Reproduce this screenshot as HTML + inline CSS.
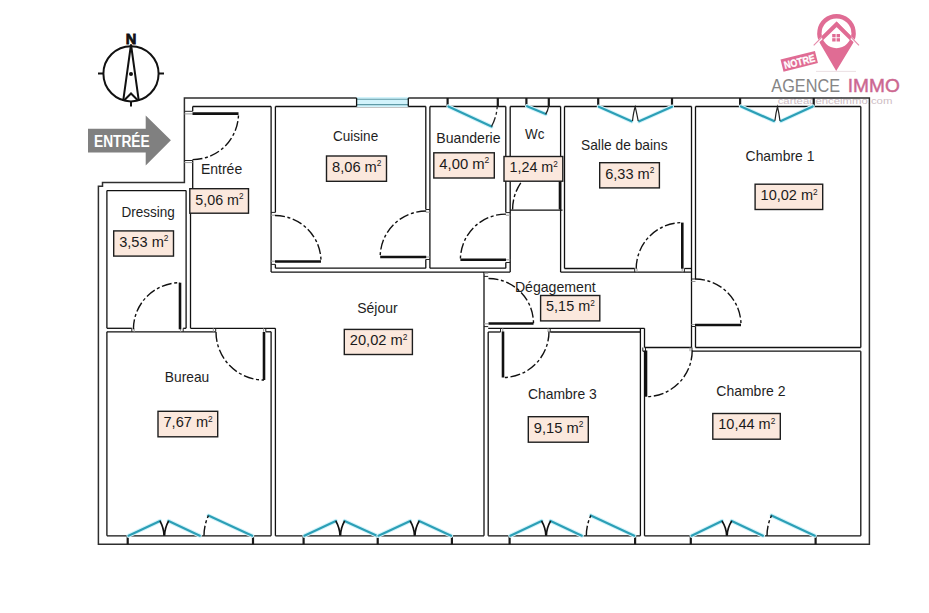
<!DOCTYPE html>
<html><head><meta charset="utf-8"><title>Plan</title>
<style>html,body{margin:0;padding:0;background:#fff;}body{width:929px;height:613px;overflow:hidden;font-family:"Liberation Sans",sans-serif;}svg{display:block;}</style>
</head><body>
<svg width="929" height="613" viewBox="0 0 929 613">
<rect width="929" height="613" fill="#fff"/>
<defs><clipPath id="inner"><circle cx="836.5" cy="33.3" r="15.2"/></clipPath></defs>
<path d="M819.95,43.2 A19.3,19.3 0 1 1 853.05,43.2 L836.2,71 Z" fill="#e06c94"/>
<circle cx="836.5" cy="33.3" r="14.9" fill="#fff"/>
<path d="M810.5,48.6 L836.6,24.6 L862.5,48.6" fill="none" stroke="#fff" stroke-width="2.6"/>
<path d="M813.7,45.3 L836.6,22.3 L859,45.3" fill="none" stroke="#e06c94" stroke-width="1.1" opacity="0.8"/>
<path d="M818,42.5 L836.6,24.4 L855,42.5" fill="none" stroke="#e06c94" stroke-width="4" clip-path="url(#inner)"/>
<g fill="#e06c94"><rect x="832.2" y="34" width="3.4" height="3.3"/><rect x="836.6" y="34" width="3.4" height="3.3"/><rect x="832.2" y="38.2" width="3.4" height="3.3"/><rect x="836.6" y="38.2" width="3.4" height="3.3"/></g>
<line x1="816" y1="71.4" x2="856" y2="71.4" stroke="#e6d8dc" stroke-width="0.8"/>
<g transform="translate(0,-3.6) rotate(-14 799 65)"><rect x="781.5" y="58.8" width="35.5" height="12.4" fill="#e06c94"/><text x="783.6" y="69" font-family="Liberation Sans, sans-serif" font-weight="bold" font-size="10.4" fill="#fff" stroke="#fff" stroke-width="0.3" textLength="31.5" lengthAdjust="spacingAndGlyphs">NOTRE</text></g>
<text x="771.3" y="91.8" font-family="Liberation Sans, sans-serif" font-size="18.9" fill="#858585" textLength="68.7" lengthAdjust="spacingAndGlyphs">AGENCE</text>
<text x="847.8" y="91.8" font-family="Liberation Sans, sans-serif" font-size="18.9" fill="#cc6790" stroke="#cc6790" stroke-width="0.45" textLength="52" lengthAdjust="spacingAndGlyphs">IMMO</text>
<text x="777.7" y="104.3" font-family="Liberation Sans, sans-serif" font-size="9.5" fill="#cdbcc3" textLength="114.7" lengthAdjust="spacingAndGlyphs">carteagenceimmo.com</text>
<path d="M184.4,98 L869.4,98 L869.4,544.2 L98.4,544.2 L98.4,186.3 L102.5,186.3 L102.5,182.4 L184.4,182.4 Z" fill="none" stroke="#2e2e2e" stroke-width="1.5" stroke-linejoin="miter"/>
<line x1="192.7" y1="106.5" x2="271.1" y2="106.5" stroke="#111" stroke-width="1.3" />
<line x1="275.4" y1="106.5" x2="425.8" y2="106.5" stroke="#111" stroke-width="1.3" />
<line x1="429.9" y1="106.5" x2="505.8" y2="106.5" stroke="#111" stroke-width="1.3" />
<line x1="510.2" y1="106.5" x2="560.6" y2="106.5" stroke="#111" stroke-width="1.3" />
<line x1="564.5" y1="106.5" x2="691.5" y2="106.5" stroke="#111" stroke-width="1.3" />
<line x1="695.5" y1="106.5" x2="860.8" y2="106.5" stroke="#111" stroke-width="1.3" />
<line x1="192.7" y1="106.5" x2="192.7" y2="111.3" stroke="#111" stroke-width="1.3" />
<line x1="192.7" y1="160.5" x2="192.7" y2="189" stroke="#111" stroke-width="1.3" />
<line x1="190.5" y1="213" x2="190.5" y2="328.3" stroke="#111" stroke-width="1.3" />
<line x1="271.1" y1="106.5" x2="271.1" y2="272.1" stroke="#111" stroke-width="1.3" />
<line x1="275.4" y1="106.5" x2="275.4" y2="212.4" stroke="#111" stroke-width="1.3" />
<line x1="275.4" y1="264.4" x2="275.4" y2="268.2" stroke="#111" stroke-width="1.3" />
<line x1="275.4" y1="268.2" x2="425.8" y2="268.2" stroke="#111" stroke-width="1.3" />
<line x1="425.8" y1="106.5" x2="425.8" y2="209.5" stroke="#111" stroke-width="1.3" />
<line x1="425.8" y1="259.5" x2="425.8" y2="268.2" stroke="#111" stroke-width="1.3" />
<line x1="271.1" y1="272.1" x2="510.2" y2="272.1" stroke="#111" stroke-width="1.3" />
<line x1="429.9" y1="106.5" x2="429.9" y2="268.2" stroke="#111" stroke-width="1.3" />
<line x1="429.9" y1="268.2" x2="505.8" y2="268.2" stroke="#111" stroke-width="1.3" />
<line x1="505.8" y1="106.5" x2="505.8" y2="212.6" stroke="#111" stroke-width="1.3" />
<line x1="505.8" y1="262.5" x2="505.8" y2="268.2" stroke="#111" stroke-width="1.3" />
<line x1="510.2" y1="106.5" x2="510.2" y2="272.1" stroke="#111" stroke-width="1.3" />
<line x1="560.6" y1="106.5" x2="560.6" y2="272.1" stroke="#111" stroke-width="1.3" />
<line x1="510.2" y1="210.1" x2="562.5" y2="210.1" stroke="#111" stroke-width="1.3" />
<line x1="564.5" y1="106.5" x2="564.5" y2="268.5" stroke="#111" stroke-width="1.3" />
<line x1="564.5" y1="268.5" x2="634.7" y2="268.5" stroke="#111" stroke-width="1.3" />
<line x1="684.4" y1="268.5" x2="691.5" y2="268.5" stroke="#111" stroke-width="1.3" />
<line x1="691.5" y1="106.5" x2="691.5" y2="347.5" stroke="#111" stroke-width="1.3" />
<line x1="560.6" y1="272.2" x2="691.5" y2="272.2" stroke="#111" stroke-width="1.3" />
<line x1="695.5" y1="106.5" x2="695.5" y2="279" stroke="#111" stroke-width="1.3" />
<line x1="695.5" y1="326.5" x2="695.5" y2="347.5" stroke="#111" stroke-width="1.3" />
<line x1="695.5" y1="347.5" x2="860.8" y2="347.5" stroke="#111" stroke-width="1.3" />
<line x1="860.8" y1="106.5" x2="860.8" y2="347.5" stroke="#111" stroke-width="1.3" />
<line x1="488.2" y1="328.3" x2="644.5" y2="328.3" stroke="#111" stroke-width="1.3" />
<line x1="644.5" y1="328.3" x2="644.5" y2="347.5" stroke="#111" stroke-width="1.3" />
<line x1="644.5" y1="347.5" x2="691.5" y2="347.5" stroke="#111" stroke-width="1.3" />
<line x1="642.8" y1="351.2" x2="645.5" y2="351.2" stroke="#111" stroke-width="1.3" />
<line x1="692" y1="351.2" x2="860.8" y2="351.2" stroke="#111" stroke-width="1.3" />
<line x1="644.5" y1="351.2" x2="644.5" y2="535.8" stroke="#111" stroke-width="1.3" />
<line x1="860.8" y1="351.2" x2="860.8" y2="535.8" stroke="#111" stroke-width="1.3" />
<line x1="644.5" y1="535.8" x2="860.8" y2="535.8" stroke="#111" stroke-width="1.3" />
<line x1="488.2" y1="332" x2="500.5" y2="332" stroke="#111" stroke-width="1.3" />
<line x1="550.2" y1="332" x2="640.4" y2="332" stroke="#111" stroke-width="1.3" />
<line x1="488.2" y1="332" x2="488.2" y2="535.8" stroke="#111" stroke-width="1.3" />
<line x1="640.4" y1="328.3" x2="640.4" y2="535.8" stroke="#111" stroke-width="1.3" />
<line x1="488.2" y1="535.8" x2="640.4" y2="535.8" stroke="#111" stroke-width="1.3" />
<line x1="484" y1="272.1" x2="484" y2="535.8" stroke="#111" stroke-width="1.3" />
<line x1="190.5" y1="328.3" x2="275.4" y2="328.3" stroke="#111" stroke-width="1.3" />
<line x1="275.4" y1="328.3" x2="275.4" y2="535.8" stroke="#111" stroke-width="1.3" />
<line x1="275.4" y1="535.8" x2="484" y2="535.8" stroke="#111" stroke-width="1.3" />
<line x1="106.9" y1="331.8" x2="106.9" y2="535.8" stroke="#111" stroke-width="1.3" />
<line x1="106.9" y1="331.8" x2="215.7" y2="331.8" stroke="#111" stroke-width="1.3" />
<line x1="265.8" y1="331.8" x2="271.1" y2="331.8" stroke="#111" stroke-width="1.3" />
<line x1="271.1" y1="331.8" x2="271.1" y2="535.8" stroke="#111" stroke-width="1.3" />
<line x1="106.9" y1="535.8" x2="271.1" y2="535.8" stroke="#111" stroke-width="1.3" />
<line x1="106.9" y1="190.6" x2="106.9" y2="328.3" stroke="#111" stroke-width="1.3" />
<line x1="106.9" y1="190.6" x2="186.1" y2="190.6" stroke="#111" stroke-width="1.3" />
<line x1="186.1" y1="190.6" x2="186.1" y2="328.3" stroke="#111" stroke-width="1.3" />
<line x1="106.9" y1="328.3" x2="131.8" y2="328.3" stroke="#111" stroke-width="1.3" />
<line x1="183.2" y1="328.3" x2="186.1" y2="328.3" stroke="#111" stroke-width="1.3" />
<line x1="184.4" y1="111.3" x2="192.7" y2="111.3" stroke="#222" stroke-width="1.0" />
<line x1="184.4" y1="113.9" x2="192.7" y2="113.9" stroke="#9a9a9a" stroke-width="1.0" />
<line x1="184.4" y1="160.5" x2="192.7" y2="160.5" stroke="#222" stroke-width="1.0" />
<line x1="184.4" y1="162.6" x2="192.7" y2="162.6" stroke="#9a9a9a" stroke-width="1.0" />
<line x1="271.1" y1="212.4" x2="275.4" y2="212.4" stroke="#222" stroke-width="1.0" />
<line x1="271.1" y1="215.2" x2="275.4" y2="215.2" stroke="#9a9a9a" stroke-width="1.0" />
<line x1="271.1" y1="261.2" x2="275.4" y2="261.2" stroke="#9a9a9a" stroke-width="1.0" />
<line x1="271.1" y1="264.4" x2="275.4" y2="264.4" stroke="#222" stroke-width="1.0" />
<line x1="425.8" y1="209.5" x2="429.9" y2="209.5" stroke="#222" stroke-width="1.0" />
<line x1="425.8" y1="212.2" x2="429.9" y2="212.2" stroke="#9a9a9a" stroke-width="1.0" />
<line x1="425.8" y1="257" x2="429.9" y2="257" stroke="#9a9a9a" stroke-width="1.0" />
<line x1="425.8" y1="259.5" x2="429.9" y2="259.5" stroke="#222" stroke-width="1.0" />
<line x1="505.8" y1="212.6" x2="510.2" y2="212.6" stroke="#222" stroke-width="1.0" />
<line x1="505.8" y1="215.2" x2="510.2" y2="215.2" stroke="#9a9a9a" stroke-width="1.0" />
<line x1="505.8" y1="259.8" x2="510.2" y2="259.8" stroke="#9a9a9a" stroke-width="1.0" />
<line x1="505.8" y1="262.5" x2="510.2" y2="262.5" stroke="#222" stroke-width="1.0" />
<line x1="634.7" y1="268.5" x2="634.7" y2="272.2" stroke="#222" stroke-width="1.0" />
<line x1="637" y1="268.5" x2="637" y2="272.2" stroke="#9a9a9a" stroke-width="1.0" />
<line x1="682.2" y1="268.5" x2="682.2" y2="272.2" stroke="#9a9a9a" stroke-width="1.0" />
<line x1="684.4" y1="268.5" x2="684.4" y2="272.2" stroke="#222" stroke-width="1.0" />
<line x1="691.5" y1="279" x2="695.5" y2="279" stroke="#222" stroke-width="1.0" />
<line x1="691.5" y1="281.5" x2="695.5" y2="281.5" stroke="#9a9a9a" stroke-width="1.0" />
<line x1="691.5" y1="324.5" x2="695.5" y2="324.5" stroke="#9a9a9a" stroke-width="1.0" />
<line x1="691.5" y1="326.5" x2="695.5" y2="326.5" stroke="#222" stroke-width="1.0" />
<line x1="484" y1="273.2" x2="488.2" y2="273.2" stroke="#9a9a9a" stroke-width="1.0" />
<line x1="484" y1="276.4" x2="488.2" y2="276.4" stroke="#222" stroke-width="1.0" />
<line x1="484" y1="323.8" x2="488.2" y2="323.8" stroke="#9a9a9a" stroke-width="1.0" />
<line x1="484" y1="326.6" x2="488.2" y2="326.6" stroke="#222" stroke-width="1.0" />
<line x1="500.5" y1="328.3" x2="500.5" y2="332" stroke="#222" stroke-width="1.0" />
<line x1="502.8" y1="328.3" x2="502.8" y2="332" stroke="#9a9a9a" stroke-width="1.0" />
<line x1="550.2" y1="328.3" x2="550.2" y2="332" stroke="#222" stroke-width="1.0" />
<line x1="548" y1="328.3" x2="548" y2="332" stroke="#9a9a9a" stroke-width="1.0" />
<line x1="642.8" y1="347.5" x2="642.8" y2="351.2" stroke="#222" stroke-width="1.0" />
<line x1="645.5" y1="347.5" x2="645.5" y2="351.2" stroke="#222" stroke-width="1.0" />
<line x1="692" y1="347.5" x2="692" y2="351.2" stroke="#222" stroke-width="1.0" />
<line x1="690" y1="347.5" x2="690" y2="351.2" stroke="#9a9a9a" stroke-width="1.0" />
<line x1="131.8" y1="328.3" x2="131.8" y2="331.8" stroke="#222" stroke-width="1.0" />
<line x1="134.2" y1="328.3" x2="134.2" y2="331.8" stroke="#9a9a9a" stroke-width="1.0" />
<line x1="183.2" y1="328.3" x2="183.2" y2="331.8" stroke="#222" stroke-width="1.0" />
<line x1="180.6" y1="328.3" x2="180.6" y2="331.8" stroke="#9a9a9a" stroke-width="1.0" />
<line x1="215.7" y1="328.3" x2="215.7" y2="331.8" stroke="#222" stroke-width="1.0" />
<line x1="213.3" y1="328.3" x2="213.3" y2="331.8" stroke="#9a9a9a" stroke-width="1.0" />
<line x1="265.8" y1="328.3" x2="265.8" y2="331.8" stroke="#222" stroke-width="1.0" />
<line x1="263.6" y1="328.3" x2="263.6" y2="331.8" stroke="#9a9a9a" stroke-width="1.0" />
<line x1="192.5" y1="113.6" x2="238.5" y2="113.6" stroke="#111" stroke-width="2.6" />
<path d="M192.5,159.6 A46.0,46.0 0 0 0 238.5,113.6" fill="none" stroke="#111" stroke-width="1.4" stroke-dasharray="10 2.6 3 2.6"/>
<line x1="275" y1="261.5" x2="321" y2="261.5" stroke="#111" stroke-width="2.6" />
<path d="M275,215.5 A46.0,46.0 0 0 1 321,261.5" fill="none" stroke="#111" stroke-width="1.4" stroke-dasharray="10 2.6 3 2.6"/>
<line x1="426.2" y1="257" x2="380.2" y2="257" stroke="#111" stroke-width="2.6" />
<path d="M426.2,211 A46.0,46.0 0 0 0 380.2,257" fill="none" stroke="#111" stroke-width="1.4" stroke-dasharray="10 2.6 3 2.6"/>
<line x1="506" y1="259.7" x2="460.4" y2="259.7" stroke="#111" stroke-width="2.6" />
<path d="M506,214.1 A45.6,45.6 0 0 0 460.4,259.7" fill="none" stroke="#111" stroke-width="1.4" stroke-dasharray="10 2.6 3 2.6"/>
<line x1="560" y1="209.4" x2="560" y2="162" stroke="#111" stroke-width="2.6" />
<path d="M512.6,209.4 A47.4,47.4 0 0 1 560,162" fill="none" stroke="#111" stroke-width="1.4" stroke-dasharray="10 2.6 3 2.6"/>
<line x1="682.3" y1="268.7" x2="682.3" y2="222.6" stroke="#111" stroke-width="2.6" />
<path d="M636.2,268.7 A46.1,46.1 0 0 1 682.3,222.6" fill="none" stroke="#111" stroke-width="1.4" stroke-dasharray="10 2.6 3 2.6"/>
<line x1="695" y1="325" x2="741" y2="325" stroke="#111" stroke-width="2.6" />
<path d="M695,279 A46.0,46.0 0 0 1 741,325" fill="none" stroke="#111" stroke-width="1.4" stroke-dasharray="10 2.6 3 2.6"/>
<line x1="488.5" y1="323.5" x2="533.5" y2="323.5" stroke="#111" stroke-width="2.6" />
<path d="M488.5,278.5 A45.0,45.0 0 0 1 533.5,323.5" fill="none" stroke="#111" stroke-width="1.4" stroke-dasharray="10 2.6 3 2.6"/>
<line x1="503" y1="331.5" x2="503" y2="377.5" stroke="#111" stroke-width="2.6" />
<path d="M549,331.5 A46.0,46.0 0 0 1 503,377.5" fill="none" stroke="#111" stroke-width="1.4" stroke-dasharray="10 2.6 3 2.6"/>
<line x1="646" y1="350.5" x2="646" y2="396.7" stroke="#111" stroke-width="2.6" />
<path d="M692.2,350.5 A46.2,46.2 0 0 1 646,396.7" fill="none" stroke="#111" stroke-width="1.4" stroke-dasharray="10 2.6 3 2.6"/>
<line x1="180" y1="329.3" x2="180" y2="282.7" stroke="#111" stroke-width="2.6" />
<path d="M133.4,329.3 A46.6,46.6 0 0 1 180,282.7" fill="none" stroke="#111" stroke-width="1.4" stroke-dasharray="10 2.6 3 2.6"/>
<line x1="264" y1="332" x2="264" y2="380" stroke="#111" stroke-width="2.6" />
<path d="M216,332 A48.0,48.0 0 0 0 264,380" fill="none" stroke="#111" stroke-width="1.4" stroke-dasharray="10 2.6 3 2.6"/>
<rect x="356.6" y="97" width="51.7" height="10" fill="#d2f3fb"/>
<line x1="356.6" y1="99.3" x2="408.3" y2="99.3" stroke="#5f9aa6" stroke-width="1.1" />
<line x1="356.6" y1="104.6" x2="408.3" y2="104.6" stroke="#5f9aa6" stroke-width="1.1" />
<line x1="356.6" y1="98" x2="356.6" y2="106.5" stroke="#111" stroke-width="1.3" />
<line x1="408.3" y1="98" x2="408.3" y2="106.5" stroke="#111" stroke-width="1.3" />
<line x1="447.6" y1="98" x2="447.6" y2="106.5" stroke="#1a1a1a" stroke-width="2.2" />
<line x1="497.8" y1="98" x2="497.8" y2="106.5" stroke="#1a1a1a" stroke-width="2.2" />
<line x1="448.4" y1="106.5" x2="491.5" y2="126.5" stroke="#d4f4fb" stroke-width="4.2" stroke-linecap="round"/>
<line x1="448.4" y1="106.5" x2="491.5" y2="126.5" stroke="#2c9fb6" stroke-width="2.2" stroke-linecap="round"/>
<path d="M491.5,126.5 A47.5,47.5 0 0 0 497.2,106.5" fill="none" stroke="#222" stroke-width="1.3" stroke-dasharray="10 2.6 3 2.6"/>
<line x1="526.4" y1="98" x2="526.4" y2="106.5" stroke="#1a1a1a" stroke-width="2.2" />
<line x1="548.8" y1="98" x2="548.8" y2="106.5" stroke="#1a1a1a" stroke-width="2.2" />
<line x1="527.1" y1="106.2" x2="545.7" y2="114.1" stroke="#d4f4fb" stroke-width="4.2" stroke-linecap="round"/>
<line x1="527.1" y1="106.2" x2="545.7" y2="114.1" stroke="#2c9fb6" stroke-width="2.2" stroke-linecap="round"/>
<path d="M545.7,114.1 A21,21 0 0 0 548.6,106.5" fill="none" stroke="#222" stroke-width="1.3"/>
<line x1="598.2" y1="98" x2="598.2" y2="106.5" stroke="#1a1a1a" stroke-width="2.2" />
<line x1="672" y1="98" x2="672" y2="106.5" stroke="#1a1a1a" stroke-width="2.2" />
<line x1="598.8" y1="106.7" x2="631.5" y2="121.3" stroke="#d4f4fb" stroke-width="4.2" stroke-linecap="round"/>
<line x1="598.8" y1="106.7" x2="631.5" y2="121.3" stroke="#2c9fb6" stroke-width="2.2" stroke-linecap="round"/>
<line x1="672" y1="106.7" x2="639.2" y2="121.3" stroke="#d4f4fb" stroke-width="4.2" stroke-linecap="round"/>
<line x1="672" y1="106.7" x2="639.2" y2="121.3" stroke="#2c9fb6" stroke-width="2.2" stroke-linecap="round"/>
<path d="M632.5,121 Q633.5,112 635.2,106.8 Q636.5,112 638.2,121" fill="none" stroke="#222" stroke-width="1.2"/>
<line x1="740.1" y1="98" x2="740.1" y2="106.5" stroke="#1a1a1a" stroke-width="2.2" />
<line x1="813.7" y1="98" x2="813.7" y2="106.5" stroke="#1a1a1a" stroke-width="2.2" />
<line x1="741" y1="106.4" x2="773.9" y2="121.1" stroke="#d4f4fb" stroke-width="4.2" stroke-linecap="round"/>
<line x1="741" y1="106.4" x2="773.9" y2="121.1" stroke="#2c9fb6" stroke-width="2.2" stroke-linecap="round"/>
<line x1="812.7" y1="106.4" x2="781" y2="121.1" stroke="#d4f4fb" stroke-width="4.2" stroke-linecap="round"/>
<line x1="812.7" y1="106.4" x2="781" y2="121.1" stroke="#2c9fb6" stroke-width="2.2" stroke-linecap="round"/>
<path d="M774.9,120.8 Q776,112 777.5,106.6 Q778.8,112 780,120.8" fill="none" stroke="#222" stroke-width="1.2"/>
<line x1="127.7" y1="535.7" x2="127.7" y2="544.2" stroke="#1a1a1a" stroke-width="2.2" />
<line x1="253" y1="535.7" x2="253" y2="544.2" stroke="#1a1a1a" stroke-width="2.2" />
<line x1="128.5" y1="535.7" x2="160" y2="521" stroke="#d4f4fb" stroke-width="4.2" stroke-linecap="round"/>
<line x1="128.5" y1="535.7" x2="160" y2="521" stroke="#2c9fb6" stroke-width="2.2" stroke-linecap="round"/>
<line x1="168.6" y1="521" x2="199.79999999999998" y2="535.7" stroke="#d4f4fb" stroke-width="4.2" stroke-linecap="round"/>
<line x1="168.6" y1="521" x2="199.79999999999998" y2="535.7" stroke="#2c9fb6" stroke-width="2.2" stroke-linecap="round"/>
<path d="M160,521 Q163.89,528 163.99,535.7 M168.6,521 Q164.69,528 164.59,535.7" fill="none" stroke="#111" stroke-width="1.6"/>
<line x1="208.4" y1="515.6" x2="252.2" y2="535.7" stroke="#d4f4fb" stroke-width="4.2" stroke-linecap="round"/>
<line x1="208.4" y1="515.6" x2="252.2" y2="535.7" stroke="#2c9fb6" stroke-width="2.2" stroke-linecap="round"/>
<path d="M204.01,535.7 A48.19,48.19 0 0 1 208.4,515.6" fill="none" stroke="#111" stroke-width="1.4" stroke-dasharray="10 2.6 3 2.6"/>
<line x1="303.6" y1="535.7" x2="303.6" y2="544.2" stroke="#1a1a1a" stroke-width="2.2" />
<line x1="377.7" y1="535.7" x2="377.7" y2="544.2" stroke="#1a1a1a" stroke-width="2.2" />
<line x1="451.9" y1="535.7" x2="451.9" y2="544.2" stroke="#1a1a1a" stroke-width="2.2" />
<line x1="304.40000000000003" y1="535.7" x2="335.8" y2="521" stroke="#d4f4fb" stroke-width="4.2" stroke-linecap="round"/>
<line x1="304.40000000000003" y1="535.7" x2="335.8" y2="521" stroke="#2c9fb6" stroke-width="2.2" stroke-linecap="round"/>
<line x1="344.6" y1="521" x2="376.9" y2="535.7" stroke="#d4f4fb" stroke-width="4.2" stroke-linecap="round"/>
<line x1="344.6" y1="521" x2="376.9" y2="535.7" stroke="#2c9fb6" stroke-width="2.2" stroke-linecap="round"/>
<path d="M335.8,521 Q339.84,528 339.94,535.7 M344.6,521 Q340.64,528 340.54,535.7" fill="none" stroke="#111" stroke-width="1.6"/>
<line x1="378.5" y1="535.7" x2="410.2" y2="521" stroke="#d4f4fb" stroke-width="4.2" stroke-linecap="round"/>
<line x1="378.5" y1="535.7" x2="410.2" y2="521" stroke="#2c9fb6" stroke-width="2.2" stroke-linecap="round"/>
<line x1="419.2" y1="521" x2="451.09999999999997" y2="535.7" stroke="#d4f4fb" stroke-width="4.2" stroke-linecap="round"/>
<line x1="419.2" y1="521" x2="451.09999999999997" y2="535.7" stroke="#2c9fb6" stroke-width="2.2" stroke-linecap="round"/>
<path d="M410.2,521 Q414.31,528 414.41,535.7 M419.2,521 Q415.11,528 415.01,535.7" fill="none" stroke="#111" stroke-width="1.6"/>
<line x1="509.6" y1="535.7" x2="509.6" y2="544.2" stroke="#1a1a1a" stroke-width="2.2" />
<line x1="635.1" y1="535.7" x2="635.1" y2="544.2" stroke="#1a1a1a" stroke-width="2.2" />
<line x1="510.40000000000003" y1="535.7" x2="541.6" y2="521" stroke="#d4f4fb" stroke-width="4.2" stroke-linecap="round"/>
<line x1="510.40000000000003" y1="535.7" x2="541.6" y2="521" stroke="#2c9fb6" stroke-width="2.2" stroke-linecap="round"/>
<line x1="550.6" y1="521" x2="581.8000000000001" y2="535.7" stroke="#d4f4fb" stroke-width="4.2" stroke-linecap="round"/>
<line x1="550.6" y1="521" x2="581.8000000000001" y2="535.7" stroke="#2c9fb6" stroke-width="2.2" stroke-linecap="round"/>
<path d="M541.6,521 Q545.70,528 545.80,535.7 M550.6,521 Q546.50,528 546.40,535.7" fill="none" stroke="#111" stroke-width="1.6"/>
<line x1="590.8" y1="515.5" x2="634.3000000000001" y2="535.7" stroke="#d4f4fb" stroke-width="4.2" stroke-linecap="round"/>
<line x1="590.8" y1="515.5" x2="634.3000000000001" y2="535.7" stroke="#2c9fb6" stroke-width="2.2" stroke-linecap="round"/>
<path d="M586.34,535.7 A47.96,47.96 0 0 1 590.8,515.5" fill="none" stroke="#111" stroke-width="1.4" stroke-dasharray="10 2.6 3 2.6"/>
<line x1="690.8" y1="535.7" x2="690.8" y2="544.2" stroke="#1a1a1a" stroke-width="2.2" />
<line x1="815.6" y1="535.7" x2="815.6" y2="544.2" stroke="#1a1a1a" stroke-width="2.2" />
<line x1="691.5999999999999" y1="535.7" x2="722" y2="521" stroke="#d4f4fb" stroke-width="4.2" stroke-linecap="round"/>
<line x1="691.5999999999999" y1="535.7" x2="722" y2="521" stroke="#2c9fb6" stroke-width="2.2" stroke-linecap="round"/>
<line x1="731.7" y1="521" x2="762.9000000000001" y2="535.7" stroke="#d4f4fb" stroke-width="4.2" stroke-linecap="round"/>
<line x1="731.7" y1="521" x2="762.9000000000001" y2="535.7" stroke="#2c9fb6" stroke-width="2.2" stroke-linecap="round"/>
<path d="M722,521 Q726.49,528 726.59,535.7 M731.7,521 Q727.29,528 727.19,535.7" fill="none" stroke="#111" stroke-width="1.6"/>
<line x1="771.5" y1="515.5" x2="814.8000000000001" y2="535.7" stroke="#d4f4fb" stroke-width="4.2" stroke-linecap="round"/>
<line x1="771.5" y1="515.5" x2="814.8000000000001" y2="535.7" stroke="#2c9fb6" stroke-width="2.2" stroke-linecap="round"/>
<path d="M767.02,535.7 A47.78,47.78 0 0 1 771.5,515.5" fill="none" stroke="#111" stroke-width="1.4" stroke-dasharray="10 2.6 3 2.6"/>
<text x="200.9" y="174.3" font-family="Liberation Sans, sans-serif" font-size="14.3" fill="#1e1e1e" textLength="41.3" lengthAdjust="spacingAndGlyphs">Entrée</text>
<text x="333" y="141.2" font-family="Liberation Sans, sans-serif" font-size="14.3" fill="#1e1e1e" textLength="45.2" lengthAdjust="spacingAndGlyphs">Cuisine</text>
<text x="436.3" y="142.9" font-family="Liberation Sans, sans-serif" font-size="14.3" fill="#1e1e1e" textLength="64.3" lengthAdjust="spacingAndGlyphs">Buanderie</text>
<text x="525" y="138.7" font-family="Liberation Sans, sans-serif" font-size="14.3" fill="#1e1e1e" textLength="19.4" lengthAdjust="spacingAndGlyphs">Wc</text>
<text x="581" y="149.5" font-family="Liberation Sans, sans-serif" font-size="14.3" fill="#1e1e1e" textLength="86.6" lengthAdjust="spacingAndGlyphs">Salle de bains</text>
<text x="745.6" y="161" font-family="Liberation Sans, sans-serif" font-size="14.3" fill="#1e1e1e" textLength="68.8" lengthAdjust="spacingAndGlyphs">Chambre 1</text>
<text x="121.4" y="217" font-family="Liberation Sans, sans-serif" font-size="14.3" fill="#1e1e1e" textLength="53.4" lengthAdjust="spacingAndGlyphs">Dressing</text>
<text x="514.9" y="292.2" font-family="Liberation Sans, sans-serif" font-size="14.3" fill="#1e1e1e" textLength="80.8" lengthAdjust="spacingAndGlyphs">Dégagement</text>
<text x="357.2" y="313.1" font-family="Liberation Sans, sans-serif" font-size="14.3" fill="#1e1e1e" textLength="40.4" lengthAdjust="spacingAndGlyphs">Séjour</text>
<text x="164.8" y="381.5" font-family="Liberation Sans, sans-serif" font-size="14.3" fill="#1e1e1e" textLength="44.4" lengthAdjust="spacingAndGlyphs">Bureau</text>
<text x="528" y="398.6" font-family="Liberation Sans, sans-serif" font-size="14.3" fill="#1e1e1e" textLength="68.8" lengthAdjust="spacingAndGlyphs">Chambre 3</text>
<text x="716.3" y="396" font-family="Liberation Sans, sans-serif" font-size="14.3" fill="#1e1e1e" textLength="69.2" lengthAdjust="spacingAndGlyphs">Chambre 2</text>
<rect x="189.8" y="188.7" width="58.7" height="24.5" fill="#fbe8dd" stroke="#1e1e1e" stroke-width="1.4"/>
<text x="195.3" y="204.5" font-family="Liberation Sans, sans-serif" font-size="15" fill="#1a1a1a" textLength="48.2" lengthAdjust="spacingAndGlyphs">5,06 m<tspan font-size="8.6" dy="-5.4">2</tspan></text>
<rect x="326.5" y="156" width="60.0" height="25.3" fill="#fbe8dd" stroke="#1e1e1e" stroke-width="1.4"/>
<text x="332.0" y="171.8" font-family="Liberation Sans, sans-serif" font-size="15" fill="#1a1a1a" textLength="49.5" lengthAdjust="spacingAndGlyphs">8,06 m<tspan font-size="8.6" dy="-5.4">2</tspan></text>
<rect x="433.8" y="152.8" width="60.5" height="25.2" fill="#fbe8dd" stroke="#1e1e1e" stroke-width="1.4"/>
<text x="439.3" y="168.6" font-family="Liberation Sans, sans-serif" font-size="15" fill="#1a1a1a" textLength="50.0" lengthAdjust="spacingAndGlyphs">4,00 m<tspan font-size="8.6" dy="-5.4">2</tspan></text>
<rect x="504" y="156.5" width="58.8" height="24.7" fill="#fbe8dd" stroke="#1e1e1e" stroke-width="1.4"/>
<text x="509.5" y="172.3" font-family="Liberation Sans, sans-serif" font-size="15" fill="#1a1a1a" textLength="48.3" lengthAdjust="spacingAndGlyphs">1,24 m<tspan font-size="8.6" dy="-5.4">2</tspan></text>
<rect x="599.7" y="162.7" width="59.7" height="25.2" fill="#fbe8dd" stroke="#1e1e1e" stroke-width="1.4"/>
<text x="605.2" y="178.5" font-family="Liberation Sans, sans-serif" font-size="15" fill="#1a1a1a" textLength="49.2" lengthAdjust="spacingAndGlyphs">6,33 m<tspan font-size="8.6" dy="-5.4">2</tspan></text>
<rect x="755.1" y="184.2" width="67.6" height="25.3" fill="#fbe8dd" stroke="#1e1e1e" stroke-width="1.4"/>
<text x="760.6" y="200.0" font-family="Liberation Sans, sans-serif" font-size="15" fill="#1a1a1a" textLength="57.1" lengthAdjust="spacingAndGlyphs">10,02 m<tspan font-size="8.6" dy="-5.4">2</tspan></text>
<rect x="113.7" y="230.9" width="59.8" height="25.2" fill="#fbe8dd" stroke="#1e1e1e" stroke-width="1.4"/>
<text x="119.2" y="246.7" font-family="Liberation Sans, sans-serif" font-size="15" fill="#1a1a1a" textLength="49.3" lengthAdjust="spacingAndGlyphs">3,53 m<tspan font-size="8.6" dy="-5.4">2</tspan></text>
<rect x="540.6" y="295.5" width="59.2" height="25.4" fill="#fbe8dd" stroke="#1e1e1e" stroke-width="1.4"/>
<text x="546.1" y="311.3" font-family="Liberation Sans, sans-serif" font-size="15" fill="#1a1a1a" textLength="48.7" lengthAdjust="spacingAndGlyphs">5,15 m<tspan font-size="8.6" dy="-5.4">2</tspan></text>
<rect x="344.3" y="329.4" width="68.1" height="25.1" fill="#fbe8dd" stroke="#1e1e1e" stroke-width="1.4"/>
<text x="349.8" y="345.2" font-family="Liberation Sans, sans-serif" font-size="15" fill="#1a1a1a" textLength="57.6" lengthAdjust="spacingAndGlyphs">20,02 m<tspan font-size="8.6" dy="-5.4">2</tspan></text>
<rect x="158" y="411.3" width="59.7" height="25.5" fill="#fbe8dd" stroke="#1e1e1e" stroke-width="1.4"/>
<text x="163.5" y="427.1" font-family="Liberation Sans, sans-serif" font-size="15" fill="#1a1a1a" textLength="49.2" lengthAdjust="spacingAndGlyphs">7,67 m<tspan font-size="8.6" dy="-5.4">2</tspan></text>
<rect x="528.3" y="416.7" width="60.0" height="25.5" fill="#fbe8dd" stroke="#1e1e1e" stroke-width="1.4"/>
<text x="533.8" y="432.5" font-family="Liberation Sans, sans-serif" font-size="15" fill="#1a1a1a" textLength="49.5" lengthAdjust="spacingAndGlyphs">9,15 m<tspan font-size="8.6" dy="-5.4">2</tspan></text>
<rect x="712.8" y="413.5" width="67.5" height="25.7" fill="#fbe8dd" stroke="#1e1e1e" stroke-width="1.4"/>
<text x="718.3" y="429.3" font-family="Liberation Sans, sans-serif" font-size="15" fill="#1a1a1a" textLength="57.0" lengthAdjust="spacingAndGlyphs">10,44 m<tspan font-size="8.6" dy="-5.4">2</tspan></text>
<g stroke="#111" fill="none" stroke-width="2"><circle cx="131" cy="73.8" r="27.6"/><line x1="98" y1="73.5" x2="103" y2="73.5"/><line x1="159" y1="73.5" x2="164" y2="73.5"/><line x1="131" y1="101" x2="131" y2="106.5"/><path d="M123.2,100.8 L131,44.5 L138.8,100.8"/><path d="M124,100.5 L131,93.5 L138,100.5"/></g><circle cx="131" cy="74" r="2" fill="#111"/>
<text x="125.8" y="44.4" font-family="Liberation Sans, sans-serif" font-weight="bold" font-size="14.4" fill="#111" stroke="#111" stroke-width="0.8" textLength="10.6" lengthAdjust="spacingAndGlyphs">N</text>
<path d="M88,128.7 H145.7 V115.4 L170.9,140.3 L145.7,165.4 V152.4 H88 Z" fill="#808080"/>
<text x="94" y="146.8" font-family="Liberation Sans, sans-serif" font-weight="bold" font-size="15.6" fill="#fff" textLength="55.7" lengthAdjust="spacingAndGlyphs">ENTRÉE</text>
</svg>
</body></html>
